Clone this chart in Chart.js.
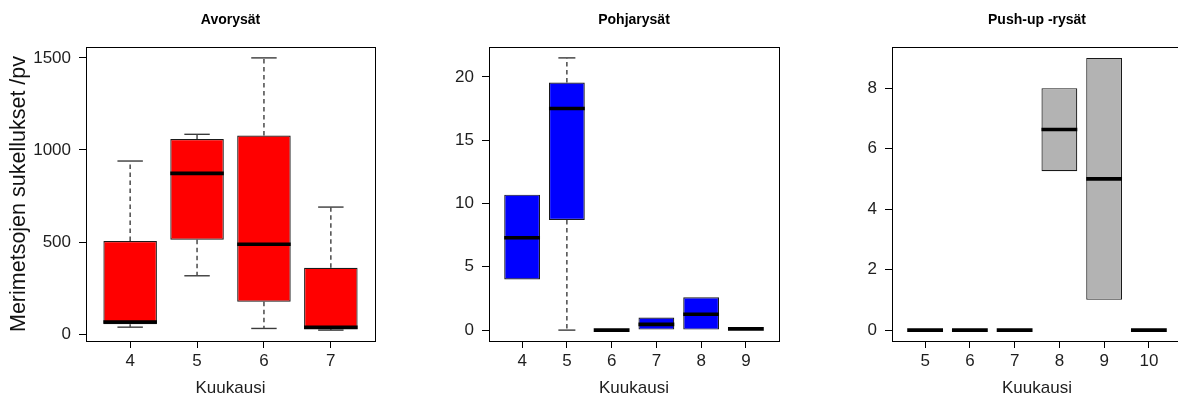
<!DOCTYPE html>
<html><head><meta charset="utf-8">
<script src="https://cdn.jsdelivr.net/npm/chart.js@4"></script>
<style>
html,body{margin:0;padding:0;background:#fff;overflow:hidden;}
#wrap{position:relative;width:1178px;height:398px;overflow:hidden;background:#fff;}
canvas{position:absolute;top:0;}
</style></head><body>
<div id="wrap">
<canvas id="c1" width="395" height="398" style="left:0px"></canvas>
<canvas id="c2" width="395" height="398" style="left:395px"></canvas>
<canvas id="c3" width="400" height="398" style="left:790px"></canvas>
</div>
<script>
// ---- Data ----
const avoTitle = 'Avorysät';
const avoMonths = ['4', '5', '6', '7'];
const avoMin = [38, 317, 31, 22];
const avoQ1  = [54, 513, 176, 28];
const avoMed = [66, 873, 488, 37];
const avoQ3  = [506, 1060, 1078, 360];
const avoMax = [940, 1085, 1500, 690];
const avoTicks = [0, 500, 1000, 1500];

const pohTitle = 'Pohjarysät';
const pohMonths = ['4', '5', '6', '7', '8', '9'];
const pohMin = [4.0, 0, 0, 0, 0, 0.1];
const pohQ1  = [4.0, 8.7, 0, 0, 0, 0.1];
const pohMed = [7.3, 17.5, 0, 0.45, 1.25, 0.1];
const pohQ3  = [10.7, 19.55, 0, 1.0, 2.6, 0.1];
const pohMax = [10.7, 21.5, 0, 1.0, 2.6, 0.1];
const pohTicks = [0, 5, 10, 15, 20];

const pushTitle = 'Push-up -rysät';
const pushMonths = ['5', '6', '7', '8', '9', '10'];
const pushMin = [0, 0, 0, 5.25, 1, 0];
const pushQ1  = [0, 0, 0, 5.25, 1, 0];
const pushMed = [0, 0, 0, 6.63, 5, 0];
const pushQ3  = [0, 0, 0, 8, 9, 0];
const pushMax = [0, 0, 0, 8, 9, 0];
const pushTicks = [0, 2, 4, 6, 8];

const xTitle = 'Kuukausi';
const yTitle = 'Merimetsojen sukellukset /pv';

// ---- Rendering ----
Chart.defaults.font.family = "'Liberation Sans', Arial, sans-serif";
Chart.defaults.color = '#1e1e1e';

const framePlugin = {
  id: 'frame',
  afterDraw(chart) {
    const {ctx, chartArea: a} = chart;
    ctx.save();
    ctx.strokeStyle = '#000';
    ctx.lineWidth = 1;
    ctx.strokeRect(Math.round(a.left) + 0.5, Math.round(a.top) + 0.5,
                   Math.round(a.right - a.left), Math.round(a.bottom - a.top));
    ctx.restore();
  }
};

function unitPx(c, u) {
  const s = c.chart.scales.x;
  return Math.abs(s.getPixelForValue(u) - s.getPixelForValue(0));
}

function makeChart(id, cfg) {
  const n = cfg.months.length;
  const idx = cfg.months.map((_, i) => i + 1);
  const boxData = [];
  const medData = [];
  const whisk = [];
  const caps = [];
  idx.forEach((x, i) => {
    if (cfg.q3[i] > cfg.q1[i]) boxData.push({x, y: [cfg.q1[i], cfg.q3[i]]});
    medData.push({x, y: cfg.med[i]});
    if (cfg.max[i] > cfg.q3[i]) {
      whisk.push({x, y: cfg.q3[i]}, {x, y: cfg.max[i]}, {x, y: null});
      caps.push({x, y: cfg.max[i]});
    }
    if (cfg.min[i] < cfg.q1[i]) {
      whisk.push({x, y: cfg.q1[i]}, {x, y: cfg.min[i]}, {x, y: null});
      caps.push({x, y: cfg.min[i]});
    }
  });
  const lo = Math.min(...cfg.min), hi = Math.max(...cfg.max);
  const ext = 0.04 * (hi - lo);
  const xext = 0.04 * n;

  new Chart(document.getElementById(id), {
    type: 'bar',
    data: {
      datasets: [
        {
          type: 'line', data: medData, showLine: false, order: 0,
          pointStyle: 'line', pointBorderColor: '#000', pointBorderWidth: 3.6,
          pointRadius: (c) => unitPx(c, 0.4)
        },
        {
          type: 'bar', data: boxData, order: 2,
          backgroundColor: cfg.color, borderColor: '#1a1a1a', borderWidth: 1.2,
          borderSkipped: false, categoryPercentage: 1.0, barPercentage: 0.8
        },
        {
          type: 'line', data: whisk, order: 3, spanGaps: false,
          borderColor: '#4a4a4a', borderWidth: 1.5, borderDash: [4.5, 3.5],
          pointRadius: 0
        },
        {
          type: 'line', data: caps, showLine: false, order: 3,
          pointStyle: 'line', pointBorderColor: '#3a3a3a', pointBorderWidth: 1.4,
          pointRadius: (c) => unitPx(c, 0.19)
        }
      ]
    },
    options: {
      responsive: false,
      animation: false,
      events: [],
      layout: {padding: {left: 0, right: cfg.padRight, top: 0, bottom: 0}},
      plugins: {
        legend: {display: false},
        tooltip: {enabled: false},
        title: {
          display: true, text: cfg.title, fullSize: false, color: '#000',
          font: {size: 14, weight: 'bold', lineHeight: 1.2},
          padding: {top: 11.6, bottom: 18.6}
        }
      },
      scales: {
        x: {
          type: 'linear', offset: false,
          min: 0.5 - xext, max: n + 0.5 + xext,
          afterBuildTicks: (s) => { s.ticks = idx.map(v => ({value: v})); },
          afterFit: (s) => { s.height = 57; },
          ticks: {
            autoSkip: false, maxRotation: 0, padding: 3,
            font: {size: 17}, color: '#1e1e1e',
            callback: (v) => cfg.months[v - 1]
          },
          grid: {display: true, drawOnChartArea: false, drawTicks: true, tickLength: 7, color: '#000', offset: false},
          border: {display: false},
          title: {display: true, text: xTitle, font: {size: 17, lineHeight: 1}, color: '#1e1e1e', padding: {top: 0, bottom: 1}}
        },
        y: {
          type: 'linear', min: lo - ext, max: hi + ext,
          afterBuildTicks: (s) => { s.ticks = cfg.ticks.map(v => ({value: v})); },
          afterFit: (s) => { s.width = cfg.yWidth; },
          ticks: {font: {size: 17}, padding: 8, color: '#1e1e1e', callback: (v) => String(v)},
          grid: {display: true, drawOnChartArea: false, drawTicks: true, tickLength: 7, color: '#000'},
          border: {display: false},
          title: cfg.yTitle ? {display: true, text: cfg.yTitle, font: {size: 21.5, lineHeight: 1}, color: '#111', padding: {top: 8, bottom: 0}} : {display: false}
        }
      }
    },
    plugins: [framePlugin]
  });
}

makeChart('c1', {title: avoTitle, months: avoMonths, min: avoMin, q1: avoQ1, med: avoMed, q3: avoQ3, max: avoMax,
  ticks: avoTicks, color: '#ff0000', yWidth: 86, padRight: 20, yTitle: yTitle});
makeChart('c2', {title: pohTitle, months: pohMonths, min: pohMin, q1: pohQ1, med: pohMed, q3: pohQ3, max: pohMax,
  ticks: pohTicks, color: '#0000ff', yWidth: 94, padRight: 11, yTitle: null});
makeChart('c3', {title: pushTitle, months: pushMonths, min: pushMin, q1: pushQ1, med: pushMed, q3: pushQ3, max: pushMax,
  ticks: pushTicks, color: '#b3b3b3', yWidth: 102, padRight: 8, yTitle: null});
</script>
</body></html>
